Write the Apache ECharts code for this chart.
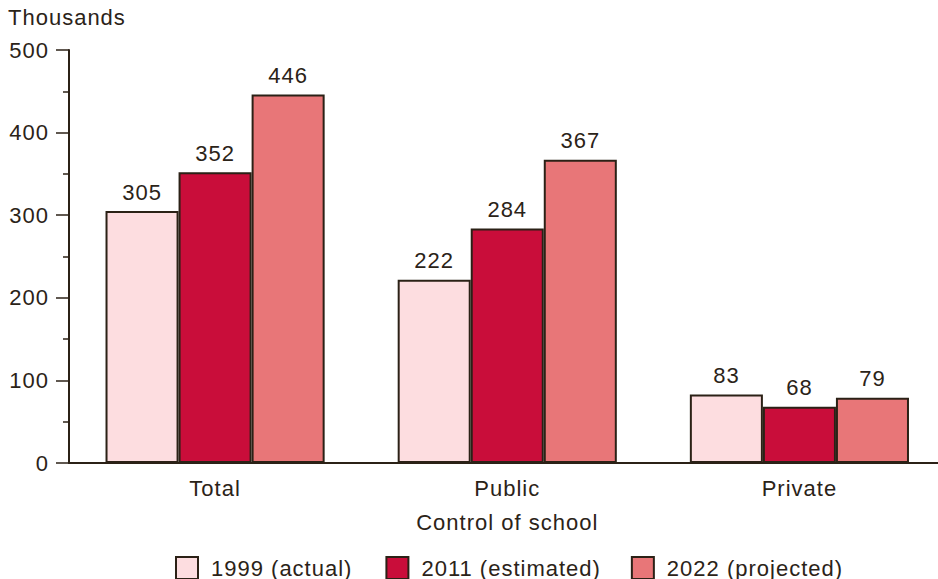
<!DOCTYPE html>
<html>
<head>
<meta charset="utf-8">
<script src="https://cdn.jsdelivr.net/npm/echarts@6/dist/echarts.min.js"></script>
<style>
  html, body { margin: 0; padding: 0; background: #fff; overflow: hidden; }
  #chart { width: 946px; height: 579px; }
  #chart svg text { letter-spacing: 1px; }
</style>
</head>
<body>
<div id="chart"></div>
<script>
const categories = ['Total', 'Public', 'Private'];
const seriesNames = ['1999 (actual)', '2011 (estimated)', '2022 (projected)'];
const values1999 = [305, 222, 83];
const values2011 = [352, 284, 68];
const values2022 = [446, 367, 79];
const yTicks = [0, 100, 200, 300, 400, 500];
const colors = ['#FDDDE0', '#C90D3A', '#E87678'];

const textColor = '#2B2318';
const lineColor = '#2B2116';
const font = 'Liberation Sans, Arial, Helvetica, sans-serif';
const fs = 22;

const chart = echarts.init(document.getElementById('chart'), null, { renderer: 'svg' });

const allValues = [values1999, values2011, values2022];
const series = allValues.map((vals, i) => ({
  name: seriesNames[i],
  type: 'bar',
  data: vals,
  barGap: '0%',
  barCategoryGap: '25%',
  itemStyle: { color: colors[i], borderColor: lineColor, borderWidth: 2 },
  label: {
    show: true,
    position: 'top',
    distance: 8,
    color: textColor,
    fontSize: fs,
    fontFamily: font
  },
  emphasis: { disabled: true }
}));

chart.setOption({
  animation: false,
  backgroundColor: '#fff',
  title: {
    text: 'Thousands',
    left: 8,
    top: 6,
    padding: 0,
    textStyle: { color: textColor, fontSize: fs, fontWeight: 'normal', fontFamily: font }
  },
  legend: {
    data: seriesNames,
    left: 175,
    top: 556,
    padding: 0,
    itemWidth: 22,
    itemHeight: 22,
    itemGap: 46,
    icon: 'rect',
    textStyle: { color: textColor, fontSize: fs, fontFamily: font, padding: [0, 0, 0, 8] }
  },
  grid: { left: 69, right: 0.5, top: 50, bottom: 116, containLabel: false },
  xAxis: {
    type: 'category',
    data: categories,
    name: 'Control of school',
    nameLocation: 'middle',
    nameGap: 48,
    nameTextStyle: { color: textColor, fontSize: fs, fontFamily: font },
    axisLine: { show: true, lineStyle: { color: lineColor, width: 2 } },
    axisTick: { show: false },
    axisLabel: { color: textColor, fontSize: fs, fontFamily: font, margin: 14 }
  },
  yAxis: {
    type: 'value',
    min: yTicks[0],
    max: yTicks[yTicks.length - 1],
    interval: 100,
    axisLine: { show: true, lineStyle: { color: lineColor, width: 2 } },
    axisTick: { show: true, length: 13, lineStyle: { color: lineColor, width: 1.5 } },
    minorTick: { show: true, splitNumber: 2, length: 6, lineStyle: { color: lineColor, width: 1.5 } },
    splitLine: { show: false },
    axisLabel: { color: textColor, fontSize: fs, fontFamily: font, margin: 20 }
  },
  series: series
});
</script>
</body>
</html>
